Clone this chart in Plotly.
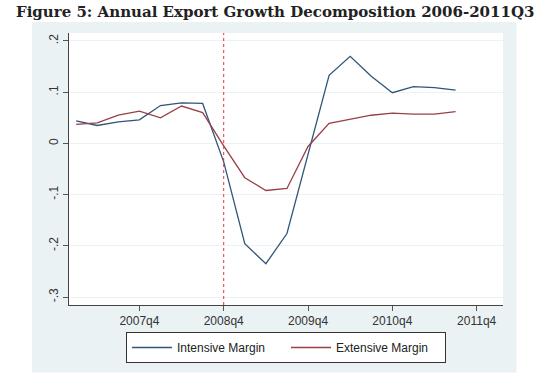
import plotly.graph_objects as go

# ---- data ----
quarters = ["2007q1", "2007q2", "2007q3", "2007q4",
            "2008q1", "2008q2", "2008q3", "2008q4",
            "2009q1", "2009q2", "2009q3", "2009q4",
            "2010q1", "2010q2", "2010q3", "2010q4",
            "2011q1", "2011q2", "2011q3"]
intensive = [0.044, 0.035, 0.042, 0.046,
             0.074, 0.079, 0.078, -0.036,
             -0.196, -0.235, -0.176, -0.022,
             0.133, 0.170, 0.131, 0.099,
             0.111, 0.109, 0.104]
extensive = [0.037, 0.040, 0.055, 0.063,
             0.050, 0.073, 0.060, -0.005,
             -0.067, -0.092, -0.088, -0.006,
             0.039, 0.047, 0.055, 0.059,
             0.057, 0.057, 0.062]
x_tick_labels = ["2007q4", "2008q4", "2009q4", "2010q4", "2011q4"]
y_tick_values = [0.2, 0.1, 0.0, -0.1, -0.2, -0.3]
y_tick_labels = [".2", ".1", "0", "-.1", "-.2", "-.3"]
event_quarter = "2008q4"
title_text = "Figure 5: Annual Export Growth Decomposition 2006-2011Q3"


def qnum(label):
    """Stata-style quarterly date: 1960q1 = 0."""
    y, q = label.split("q")
    return (int(y) - 1960) * 4 + int(q) - 1


xq = [qnum(q) for q in quarters]
tick_x = [qnum(q) for q in x_tick_labels]

W, H = 554, 385
L, R, T, B = 69, 51, 33, 80
pw, ph = W - L - R, H - T - B
SANS = "Liberation Sans, Arial, sans-serif"


def px_to_paper_x(px):
    return (px - L) / pw


def py_to_paper_y(py):
    return (H - B - py) / ph


fig = go.Figure()
fig.add_trace(go.Scatter(x=xq, y=intensive, mode="lines", name="Intensive Margin",
                         line=dict(color="#2f5579", width=1.3)))
fig.add_trace(go.Scatter(x=xq, y=extensive, mode="lines", name="Extensive Margin",
                         line=dict(color="#984048", width=1.3)))

shapes = [
    # Stata graph region (light blue)
    dict(type="rect", xref="paper", yref="paper", layer="below",
         x0=px_to_paper_x(32), x1=px_to_paper_x(516.5),
         y0=py_to_paper_y(372.5), y1=py_to_paper_y(22),
         fillcolor="#eaf2f3", line=dict(width=0)),
    # plot region (white)
    dict(type="rect", xref="paper", yref="paper", layer="below",
         x0=0, x1=1, y0=0, y1=1, fillcolor="white", line=dict(width=0)),
    # event line
    dict(type="line", xref="x", yref="paper", layer="above",
         x0=qnum(event_quarter), x1=qnum(event_quarter), y0=0, y1=1,
         line=dict(color="#e8323c", width=1, dash="dot")),
]

fig.update_layout(
    width=W, height=H,
    margin=dict(l=L, r=R, t=T, b=B, pad=0),
    paper_bgcolor="white",
    plot_bgcolor="rgba(0,0,0,0)",
    shapes=shapes,
    showlegend=True,
    legend=dict(orientation="h", x=0.5, xanchor="center",
                y=py_to_paper_y(332), yanchor="top",
                bgcolor="white", bordercolor="#333333", borderwidth=1,
                font=dict(family=SANS, size=12, color="#222222"),
                entrywidth=104, entrywidthmode="pixels", itemwidth=40),
    annotations=[dict(text="<b>" + title_text + "</b>", xref="paper", yref="paper",
                      x=px_to_paper_x(274.5), y=py_to_paper_y(12),
                      xanchor="center", yanchor="middle", showarrow=False,
                      font=dict(family="DejaVu Serif", size=15, color="#222222"))],
)

fig.update_xaxes(range=[187.66, 208.25], tickmode="array", tickvals=tick_x,
                 ticktext=x_tick_labels, ticks="outside", ticklen=5, tickcolor="#555555",
                 showline=True, linecolor="#444444", linewidth=1, showgrid=False,
                 zeroline=False,
                 tickfont=dict(family=SANS, size=12, color="#333333"))
fig.update_yaxes(range=[-0.3156, 0.2156], tickmode="array", tickvals=y_tick_values,
                 ticktext=y_tick_labels, ticks="outside", ticklen=5, tickcolor="#555555",
                 tickangle=-90,
                 showline=True, linecolor="#444444", linewidth=1,
                 showgrid=True, gridcolor="#eaf2f3", gridwidth=1, zeroline=False,
                 tickfont=dict(family=SANS, size=12, color="#333333"))

fig.write_html("out.html", config={"displayModeBar": False},
               post_script="document.body.style.margin='0px';")
